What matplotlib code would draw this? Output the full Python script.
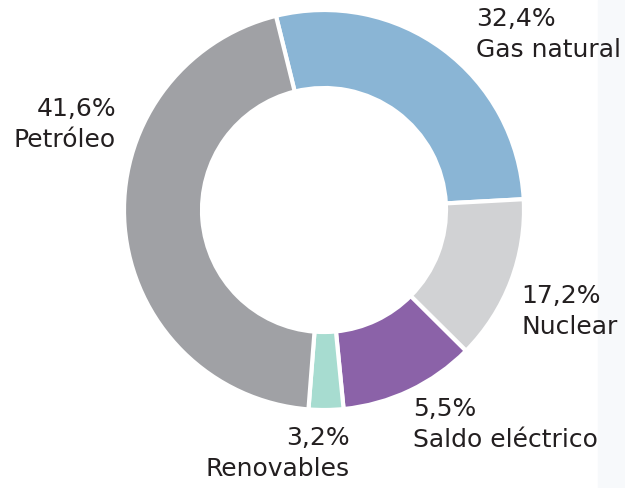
import matplotlib
matplotlib.use("Agg")
import matplotlib.pyplot as plt
from matplotlib.patches import Rectangle

# slice order, clockwise from the top
categories = ["Gas natural", "Nuclear", "Saldo eléctrico", "Renovables", "Petróleo"]
pct_labels = ["32,4%", "17,2%", "5,5%", "3,2%", "41,6%"]
shares = [28.0, 13.3, 11.0, 2.8, 44.9]
colors = ["#8ab5d5", "#d1d2d4", "#8b62a8", "#a7dcd0", "#a0a1a5"]

# label anchors in pixels (x, y of first line centre) and alignment
label_pos = [(476, 19, "left"), (521, 296, "left"), (413, 409, "left"),
             (350, 438, "right"), (116, 109, "right")]

W, H = 625, 488
cx, cy, R = 324, 210, 200

fig = plt.figure(figsize=(W / 100, H / 100), dpi=100)
fig.patches.append(Rectangle((598 / W, 0), 1, 1, transform=fig.transFigure,
                             color="#f7f9fb", zorder=-1))
ax = fig.add_axes([0, 0, 1, 1])
ax.axis("off")

ax.pie(shares, colors=colors, startangle=103.9, counterclock=False, radius=1,
       wedgeprops=dict(width=0.39, edgecolor="white", linewidth=3))
ax.set_xlim(-cx / R, (W - cx) / R)
ax.set_ylim(-(H - cy) / R, cy / R)

for pct, name, (px, py, ha) in zip(pct_labels, categories, label_pos):
    x = (px - cx) / R
    ax.text(x, (cy - py) / R, pct, ha=ha, va="center", fontsize=18,
            family="DejaVu Sans", color="#231f20")
    ax.text(x, (cy - py - 31) / R, name, ha=ha, va="center", fontsize=18,
            family="DejaVu Sans", color="#231f20")

fig.savefig("out.png", dpi=100)
